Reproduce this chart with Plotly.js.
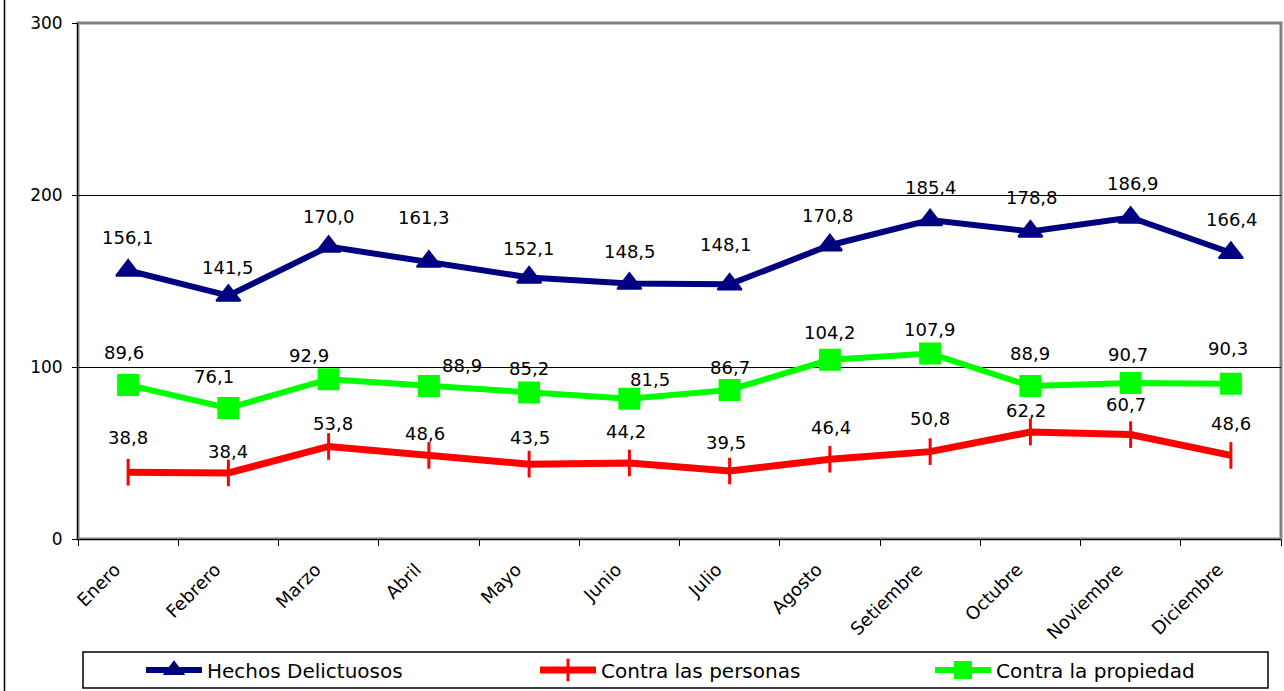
<!DOCTYPE html>
<html>
<head>
<meta charset="utf-8">
<script src="https://cdn.plot.ly/plotly-3.0.1.min.js"></script>
<style>
  html, body { margin: 0; padding: 0; background: #fff; }
  #chart { width: 1284px; height: 691px; }
</style>
</head>
<body>
<div id="chart"></div>
<script>
// ---- data ----
const months = ["Enero", "Febrero", "Marzo", "Abril", "Mayo", "Junio", "Julio",
                "Agosto", "Setiembre", "Octubre", "Noviembre", "Diciembre"];
const hechos = [156.1, 141.5, 170.0, 161.3, 152.1, 148.5, 148.1, 170.8, 185.4, 178.8, 186.9, 166.4];
const personas = [38.8, 38.4, 53.8, 48.6, 43.5, 44.2, 39.5, 46.4, 50.8, 62.2, 60.7, 48.6];
const propiedad = [89.6, 76.1, 92.9, 88.9, 85.2, 81.5, 86.7, 104.2, 107.9, 88.9, 90.7, 90.3];
const seriesNames = ["Hechos Delictuosos", "Contra las personas", "Contra la propiedad"];
const yTicks = [0, 100, 200, 300];

// ---- label placement (pixel offsets from each point, style only) ----
const hechosDx = [0, 0, 0, -5, 0, 1, -4, -2, 1, 2, 2, 1];
const hechosDy = [33, 28, 30, 44, 29, 32, 40, 30, 33, 34, 34, 33];
const personasDx = [0, 0, 4, -4, 1, -3, -4, 1, 0, -4, -5, 0];
const personasDy = [35, 21, 23, 22, 27, 31, 29, 32, 33, 22, 30, 32];
const propiedadDx = [-4, -14, -20, 33, 0, 21, 0, 0, 0, 0, -3, -3];
const propiedadDy = [32, 32, 24, 21, 24, 19, 22, 27, 24, 33, 29, 35];

const FONT = "DejaVu Sans, Verdana, sans-serif";
const fmt = v => v.toFixed(1).replace(".", ",");

const traces = [
  {
    x: months, y: hechos, name: seriesNames[0], type: "scatter", mode: "lines+markers",
    legend: "legend",
    line: { color: "#000080", width: 6 },
    marker: { symbol: "triangle-up", size: 21, color: "#000080", line: { color: "#000080", width: 2 } }
  },
  {
    x: months, y: personas, name: seriesNames[1], type: "scatter", mode: "lines+markers",
    legend: "legend2",
    line: { color: "#FF0000", width: 7 },
    marker: { symbol: "line-ns", size: 19, color: "#FF0000", line: { color: "#FF0000", width: 3 } }
  },
  {
    x: months, y: propiedad, name: seriesNames[2], type: "scatter", mode: "lines+markers",
    legend: "legend3",
    line: { color: "#00FF00", width: 6 },
    marker: { symbol: "square", size: 20, color: "#00FF00", line: { color: "#00FF00", width: 2 } }
  }
];

const annotations = [];
function addLabels(vals, dx, dy) {
  vals.forEach((v, i) => {
    annotations.push({
      x: months[i], y: v, xref: "x", yref: "y", text: fmt(v), showarrow: false,
      xshift: dx[i], yshift: dy[i], xanchor: "center", yanchor: "middle",
      font: { family: FONT, size: 18, color: "#000" }
    });
  });
}
addLabels(hechos, hechosDx, hechosDy);
addLabels(personas, personasDx, personasDy);
addLabels(propiedad, propiedadDx, propiedadDy);

const W = 1284, H = 691;
const mL = 78, mR = 3, mT = 23, mB = 152;
const pw = W - mL - mR, ph = H - mT - mB;
const px = x => (x - mL) / pw;
const py = y => (H - mB - y) / ph;

function legendAt(xpix) {
  return {
    orientation: "h", x: px(xpix), xanchor: "left", y: py(670), yanchor: "middle",
    bgcolor: "rgba(0,0,0,0)", borderwidth: 0, itemwidth: 56,
    font: { family: FONT, size: 20, color: "#000" },
    itemclick: false, itemdoubleclick: false
  };
}

const layout = {
  width: W, height: H,
  margin: { l: mL, r: mR, t: mT, b: mB, pad: 0, autoexpand: false },
  paper_bgcolor: "#fff", plot_bgcolor: "#fff",
  showlegend: true,
  font: { family: FONT, color: "#000" },
  xaxis: {
    type: "category", categoryarray: months, range: [-0.5, 11.5],
    tickson: "boundaries", ticks: "outside", ticklen: 6, tickcolor: "#000", tickwidth: 1,
    tickangle: -45, tickfont: { family: FONT, size: 18, color: "#000" },
    ticklabelstandoff: 12, ticklabelshift: -13,
    showgrid: false, showline: true, linecolor: "#000", linewidth: 1, zeroline: false,
    fixedrange: true, automargin: false
  },
  yaxis: {
    range: [0, 300], tickvals: yTicks, ticktext: yTicks.map(String),
    ticks: "outside", ticklen: 5, tickcolor: "#000", tickwidth: 1,
    tickfont: { family: FONT, size: 17, color: "#000" },
    showgrid: true, gridcolor: "#000", gridwidth: 1,
    showline: true, linecolor: "#000", linewidth: 1, zeroline: false,
    ticklabelstandoff: 6, fixedrange: true, automargin: false
  },
  legend: legendAt(141),
  legend2: legendAt(535),
  legend3: legendAt(930),
  shapes: [
    { type: "rect", xref: "paper", yref: "paper", x0: 0, x1: 1, y0: 0, y1: 1,
      line: { color: "#808080", width: 3 }, layer: "below" },
    { type: "rect", xref: "paper", yref: "paper", x0: px(83), x1: px(1268), y0: py(688), y1: py(652),
      line: { color: "#000", width: 1.5 }, fillcolor: "rgba(0,0,0,0)" },
    { type: "line", xref: "paper", yref: "paper", x0: px(4.5), x1: px(4.5), y0: py(0), y1: py(691),
      line: { color: "#000", width: 1.5 } }
  ],
  annotations: annotations
};

Plotly.newPlot("chart", traces, layout, { displayModeBar: false, staticPlot: true });
</script>
</body>
</html>
